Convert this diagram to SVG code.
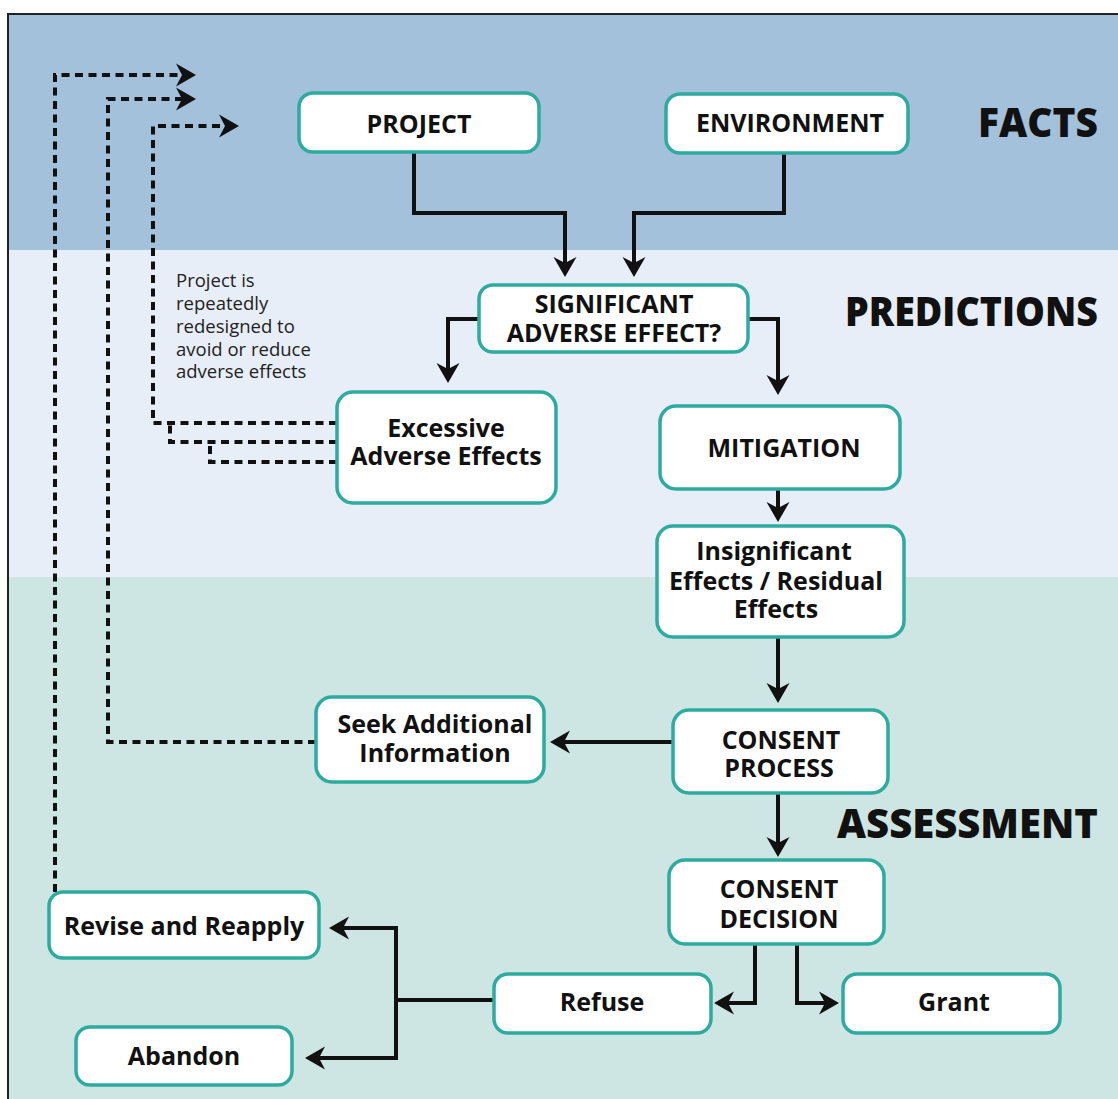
<svg xmlns="http://www.w3.org/2000/svg" width="1118" height="1099" viewBox="0 0 1118 1099">
<defs>
<style>
.node rect{fill:#fff;stroke:#2dab9f;stroke-width:3.5}
.node text{font-family:"Open Sans","Liberation Sans",sans-serif;font-weight:700;font-size:25px;fill:#111;text-anchor:middle}
.title{font-family:"Open Sans","Liberation Sans",sans-serif;font-weight:800;font-size:41px;fill:#111;text-anchor:end}
.note{font-family:"Open Sans","Liberation Sans",sans-serif;font-size:18.5px;fill:#222}
.conn path{fill:none;stroke:#111;stroke-width:4}
.conn path.dot{stroke-dasharray:8 5.5}
.conn path.arr{marker-end:url(#ah)}
</style>
<marker id="ah" markerUnits="userSpaceOnUse" viewBox="0 -12 20 24" refX="8" refY="0" markerWidth="20" markerHeight="24" orient="auto">
<path d="M0,-11.5 L20,0 L0,11.5 L6,0 Z" fill="#111"/>
</marker>
</defs>
<g id="background">
<rect x="8" y="14" width="1120" height="236" fill="#a3c1da"/>
<rect x="8" y="250" width="1120" height="327" fill="#e8eef7"/>
<rect x="8" y="577" width="1120" height="530" fill="#cee6e3"/>
<rect x="8" y="14" width="1120" height="1100" fill="none" stroke="#222" stroke-width="2"/>
</g>
<g id="titles">
<text class="title" x="1098" y="137" textLength="120" lengthAdjust="spacingAndGlyphs">FACTS</text>
<text class="title" x="1098" y="326" textLength="253" lengthAdjust="spacingAndGlyphs">PREDICTIONS</text>
<text class="title" x="1098" y="838" textLength="261" lengthAdjust="spacingAndGlyphs">ASSESSMENT</text>
</g>
<g id="note">
<text class="note" x="176" y="287">Project is</text>
<text class="note" x="176" y="310">repeatedly</text>
<text class="note" x="176" y="333">redesigned to</text>
<text class="note" x="176" y="356">avoid or reduce</text>
<text class="note" x="176" y="378">adverse effects</text>
</g>
<g id="connectors" class="conn">
<path class="arr" d="M414,152 V213 H565 V265"/>
<path class="arr" d="M784,153 V213 H634 V265"/>
<path class="arr" d="M479,319 H448 V371"/>
<path class="arr" d="M748,319 H778 V383"/>
<path class="arr" d="M778,489 V510"/>
<path class="arr" d="M778,637 V691"/>
<path class="arr" d="M673,742 H562"/>
<path class="arr" d="M778,793 V845"/>
<path class="arr" d="M755,944 V1003 H726"/>
<path class="arr" d="M797,944 V1003 H827"/>
<path class="arr" d="M494,1000 H396 V928 H341"/>
<path class="arr" d="M396,1000 V1058 H317"/>
<path class="dot arr" d="M337,423 H153 V126 H227"/>
<path class="dot" d="M337,442 H170 V423"/>
<path class="dot" d="M337,462 H210 V442"/>
<path class="dot arr" d="M316,742 H108 V99 H184"/>
<path class="dot arr" d="M55,892 V75 H184"/>
</g>
<g id="project" class="node"><rect x="299" y="93" width="240" height="59" rx="14"/><text x="419" y="133">PROJECT</text></g>
<g id="environment" class="node"><rect x="666" y="94" width="242" height="59" rx="14"/><text x="790" y="132">ENVIRONMENT</text></g>
<g id="significant" class="node"><rect x="479" y="285" width="269" height="67" rx="14"/><text x="614" y="313">SIGNIFICANT</text><text x="614" y="342">ADVERSE EFFECT?</text></g>
<g id="excessive" class="node"><rect x="337" y="392" width="219" height="111" rx="16"/><text x="446" y="437">Excessive</text><text x="446" y="465">Adverse Effects</text></g>
<g id="mitigation" class="node"><rect x="660" y="406" width="240" height="83" rx="16"/><text x="784" y="457">MITIGATION</text></g>
<g id="insignificant" class="node"><rect x="657" y="526" width="247" height="111" rx="16"/><text x="774" y="560">Insignificant</text><text x="776" y="590">Effects / Residual</text><text x="776" y="618">Effects</text></g>
<g id="consent-process" class="node"><rect x="673" y="710" width="215" height="83" rx="16"/><text x="781" y="749">CONSENT</text><text x="779" y="777">PROCESS</text></g>
<g id="seek" class="node"><rect x="316" y="697" width="228" height="85" rx="16"/><text x="435" y="733">Seek Additional</text><text x="435" y="762">Information</text></g>
<g id="consent-decision" class="node"><rect x="669" y="860" width="215" height="84" rx="16"/><text x="779" y="898">CONSENT</text><text x="779" y="928">DECISION</text></g>
<g id="revise" class="node"><rect x="49" y="892" width="270" height="66" rx="14"/><text x="184" y="935">Revise and Reapply</text></g>
<g id="abandon" class="node"><rect x="76" y="1027" width="216" height="58" rx="14"/><text x="184" y="1065">Abandon</text></g>
<g id="refuse" class="node"><rect x="494" y="974" width="217" height="59" rx="14"/><text x="602" y="1011">Refuse</text></g>
<g id="grant" class="node"><rect x="843" y="974" width="217" height="59" rx="14"/><text x="954" y="1011">Grant</text></g>
</svg>
